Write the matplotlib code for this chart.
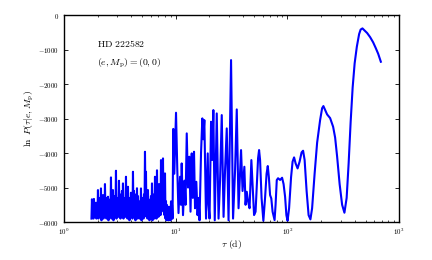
import math
import matplotlib
matplotlib.use("Agg")
import matplotlib.pyplot as plt
from matplotlib.ticker import FuncFormatter, FixedLocator, LogLocator

plt.rcParams['mathtext.fontset'] = 'cm'
plt.rcParams['font.family'] = ['DejaVu Serif']

# ---------- data ----------
# dense, noisy part (short periods)
tau_short = [1.763, 1.781, 1.799, 1.818, 1.837, 1.856, 1.875, 1.895, 1.914, 1.934,
             1.954, 1.975, 1.995, 2.016, 2.037, 2.058, 2.079, 2.101, 2.123, 2.145,
             2.167, 2.190, 2.212, 2.235, 2.258, 2.282, 2.305, 2.329, 2.353, 2.378,
             2.402, 2.427, 2.452, 2.478, 2.503, 2.529, 2.555, 2.582, 2.609, 2.636,
             2.663, 2.691, 2.719, 2.747, 2.775, 2.804, 2.833, 2.862, 2.892, 2.922,
             2.952, 2.983, 3.014, 3.045, 3.076, 3.108, 3.140, 3.173, 3.206, 3.239,
             3.272, 3.306, 3.340, 3.375, 3.410, 3.445, 3.481, 3.517, 3.554, 3.591,
             3.628, 3.665, 3.703, 3.742, 3.781, 3.820, 3.859, 3.899, 3.940, 3.981,
             4.022, 4.064, 4.106, 4.148, 4.191, 4.235, 4.279, 4.323, 4.368, 4.413,
             4.459, 4.505, 4.552, 4.599, 4.647, 4.694, 4.743, 4.792, 4.842, 4.892,
             4.943, 4.994, 5.046, 5.098, 5.151, 5.204, 5.258, 5.312, 5.367, 5.423,
             5.479, 5.536, 5.593, 5.651, 5.710, 5.769, 5.829, 5.889, 5.950, 6.012,
             6.074, 6.137, 6.201, 6.265, 6.330, 6.395, 6.462, 6.529, 6.597, 6.665,
             6.734, 6.804, 6.874, 6.945, 7.017, 7.090, 7.164, 7.238, 7.313, 7.389,
             7.465, 7.542, 7.621, 7.700, 7.780, 7.860, 7.942, 8.024, 8.107, 8.191,
             8.276, 8.361, 8.448, 8.536, 8.625, 8.714, 8.805, 8.896, 8.988, 9.081,
             9.175, 9.270, 9.37]
lnp_short = [-5900, -5340, -5800, -5500, -5900, -5330, -5750, -5450, -5850, -5440,
             -5900, -5600, -5800, -5073, -5900, -5300, -5700, -5500, -5850, -5025,
             -5950, -5400, -5800, -5218, -5900, -5500, -5850, -4899, -5750, -5300,
             -5900, -5450, -5800, -5266, -5950, -5500, -5850, -5350, -5700, -4706,
             -5900, -5200, -5800, -5073, -5950, -5400, -5850, -5250, -5700, -4513,
             -5900, -5300, -5800, -5450, -5850, -4803, -5750, -5200, -5900, -5400,
             -5800, -5100, -5850, -4880, -5900, -5300, -5700, -5450, -5850, -4687,
             -5750, -5100, -5900, -4977, -5800, -5350, -5950, -5300, -5850, -5150,
             -5700, -5400, -5900, -4542, -5800, -5100, -5850, -5200, -5950, -5300,
             -5800, -5020, -5900, -5250, -5750, -5400, -5900, -5450, -5850, -5025,
             -5950, -5300, -5800, -5300, -5900, -5200, -5750, -3962, -5300, -4542,
             -5850, -5200, -5900, -5073, -5800, -5350, -5950, -5400, -5850, -5250,
             -5900, -4880, -5950, -5300, -5850, -5200, -5900, -4687, -5800, -5100,
             -5900, -4500, -5750, -5200, -5850, -4900, -5700, -5000, -5800, -4204,
             -5500, -4900, -5600, -4155, -5700, -5000, -5800, -4590, -5900, -5400,
             -5950, -5508, -5900, -5700, -5950, -5557, -5900, -5650, -5950, -5400,
             -5900, -5500, -5900]

# spiky middle part
tau_mid = [9.52, 9.72, 10.07, 10.34, 10.60, 10.94, 11.16, 11.32, 11.63, 12.00,
           12.25, 12.56, 12.90, 13.24, 13.58, 13.92, 14.24, 14.59, 14.90, 15.30,
           15.69, 16.01, 16.35, 16.86, 17.32, 17.64, 18.05, 18.69, 19.36, 19.68,
           20.09, 20.73, 21.24, 21.73, 22.37, 23.31, 24.19, 24.95, 25.84, 26.82,
           27.66, 28.64, 29.72, 31.30, 32.62, 34.00, 35.21, 36.53, 38.46, 39.67,
           41.17, 42.21, 43.26, 44.44, 45.84, 47.57]
lnp_mid = [-3300, -4600, -2831, -4494, -5740, -4687, -5500, -4300, -5800, -4800,
           -5500, -3430, -5000, -4107, -5700, -4010, -5300, -3962, -5600, -4833,
           -5800, -5300, -5950, -4000, -2995, -3600, -3044, -5900, -4010, -5500,
           -5900, -3092, -4200, -2754, -5950, -2851, -5900, -4800, -2899, -5850,
           -4500, -3285, -5950, -1305, -5900, -4500, -2735, -5600, -3914, -5100,
           -4397, -5500, -5122, -5400, -5600, -4204]

# smooth long-period part
tau_long = [50.29, 51.87, 53.50, 54.62, 55.76, 56.92, 58.70, 60.92, 63.08, 65.07,
            66.70, 68.23, 69.94, 71.72, 73.66, 76.74, 78.34, 80.30, 82.48, 85.96,
            89.58, 92.39, 95.30, 97.88, 100.3, 103.5, 107.8, 111.2, 114.7, 118.4,
            123.3, 128.5, 133.9, 138.1, 142.5, 148.5, 154.7, 160.6, 166.3, 175.1,
            184.4, 196.1, 204.4, 209.9, 217.4, 226.5, 241.0, 256.4, 267.2, 278.4,
            293.2, 308.7, 323.7, 338.8, 353.0, 367.9, 383.4, 399.5, 417.9, 438.2,
            452.0, 469.2, 490.9, 516.8, 549.8, 584.9, 616.0, 648.6, 685.5]
lnp_long = [-5798, -5700, -4800, -4150, -3913, -4200, -5300, -5963, -5300, -4600,
            -4377, -4700, -5218, -5315, -5700, -5943, -5500, -4783, -4730, -4780,
            -4716, -4900, -5266, -5800, -5963, -5600, -4700, -4250, -4126, -4300,
            -4445, -4250, -3980, -3933, -4200, -5100, -5800, -5923, -5600, -4600,
            -3700, -3044, -2700, -2638, -2750, -2880, -2986, -3237, -3550, -4100,
            -4900, -5500, -5730, -5300, -4300, -3100, -2100, -1400, -918, -550,
            -420, -386, -450, -520, -640, -790, -950, -1120, -1353]

yticks = [0, -1000, -2000, -3000, -4000, -5000, -6000]

tau = tau_short + tau_mid + tau_long
lnp = lnp_short + lnp_mid + lnp_long

fig = plt.figure(figsize=(4.32, 2.6), dpi=100)
ax = fig.add_axes([0.148, 0.146, 0.776, 0.796])

ax.plot(tau, lnp, color='#0000ff', lw=1.5)

ax.set_xscale('log')
ax.set_xlim(1, 1000)
ax.set_ylim(-6000, 0)
ax.yaxis.set_major_locator(FixedLocator(yticks))
ax.yaxis.set_major_formatter(FuncFormatter(lambda v, p: r'$%d$' % v))
ax.xaxis.set_major_locator(LogLocator(base=10))
ax.xaxis.set_major_formatter(FuncFormatter(lambda v, p: r'$10^{%d}$' % round(math.log10(v))))

ax.tick_params(which='both', direction='in', top=True, right=True, labelsize=5)
ax.tick_params(which='major', length=3, width=0.6)
ax.tick_params(which='minor', length=1.5, width=0.5)
for s in ax.spines.values():
    s.set_linewidth(1.0)

ax.set_xlabel(r'$\tau\ (\mathrm{d})$', fontsize=7, labelpad=0.5)
ax.set_ylabel(r'$\ln\ P(\tau|e,M_{\rm p})$', fontsize=7)
ax.yaxis.set_label_coords(-0.083, 0.5)

ax.text(0.098, 0.89, r'$\mathrm{HD\ 222582}$', transform=ax.transAxes,
        fontsize=7, va='top', ha='left')
ax.text(0.098, 0.80, r'$(e,M_{\rm p})=(0,0)$', transform=ax.transAxes,
        fontsize=7, va='top', ha='left')

fig.savefig('out.png', dpi=100)
